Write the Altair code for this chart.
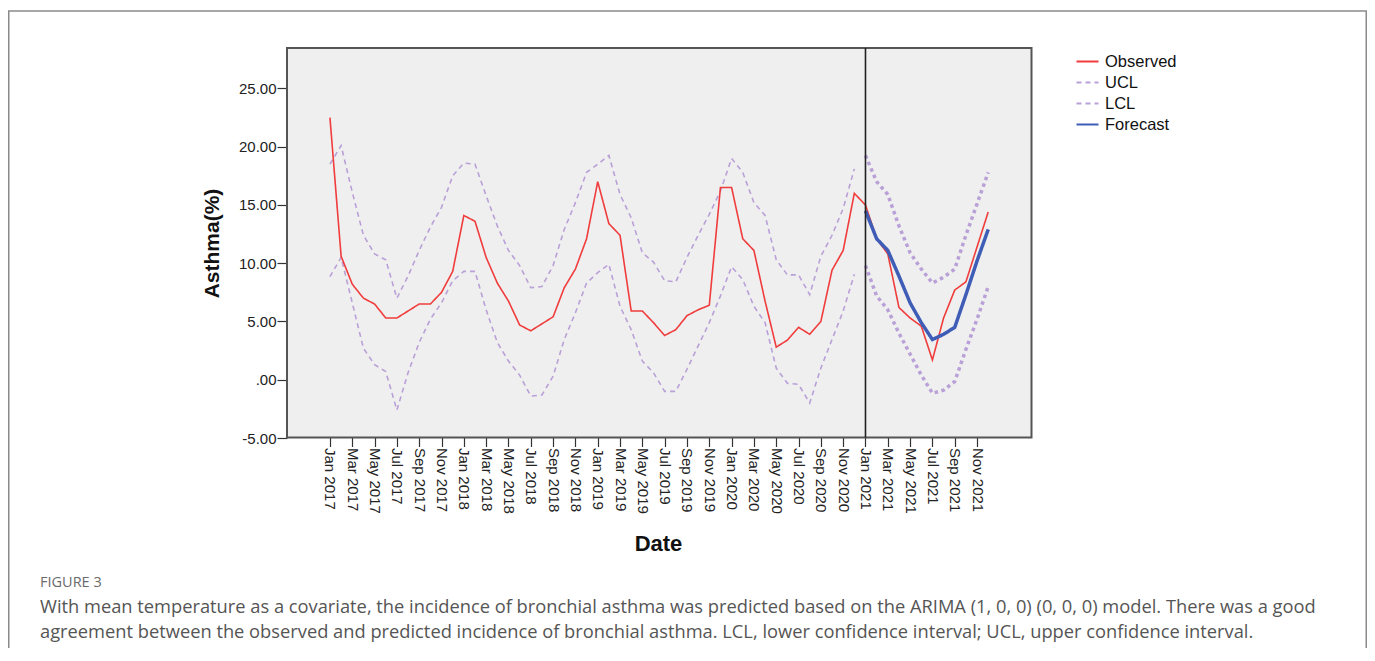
import altair as alt
import pandas as pd

# ---------------- data ----------------
years = [2017, 2018, 2019, 2020, 2021]
month_names = ["Jan", "Feb", "Mar", "Apr", "May", "Jun",
               "Jul", "Aug", "Sep", "Oct", "Nov", "Dec"]
month_labels = [f"{m} {y}" for y in years for m in month_names]

observed = [22.5, 10.6, 8.2, 7.0, 6.5, 5.3, 5.3, 5.9, 6.5, 6.5, 7.5, 9.3,
            14.1, 13.6, 10.5, 8.3, 6.75, 4.7, 4.2, 4.8, 5.4, 7.9, 9.5, 12.1,
            17.0, 13.4, 12.4, 5.9, 5.9, 4.9, 3.8, 4.3, 5.5, 6.0, 6.4, 16.5,
            16.5, 12.1, 11.1, 6.75, 2.8, 3.4, 4.5, 3.9, 5.0, 9.4, 11.1, 16.0,
            15.0, 12.1, 10.8, 6.2, 5.3, 4.6, 1.7, 5.3, 7.7, 8.4, 11.4, 14.4]

ucl = [18.5, 20.1, 16.1, 12.4, 10.8, 10.3, 7.0, 8.9, 11.1, 13.1, 14.8, 17.5,
       18.6, 18.5, 15.8, 13.2, 11.1, 9.8, 7.9, 8.0, 9.8, 12.9, 15.2, 17.8,
       18.5, 19.25, 15.9, 13.9, 10.9, 10.1, 8.5, 8.4, 10.5, 12.4, 14.2, 16.2,
       19.0, 17.8, 15.2, 14.1, 10.3, 9.0, 9.0, 7.3, 10.6, 12.4, 14.7, 18.1,
       19.25, 17.0, 15.9, 13.2, 10.9, 9.5, 8.3, 8.8, 9.5, 12.4, 15.1, 17.8]

lcl = [8.85, 10.5, 6.6, 2.7, 1.3, 0.7, -2.6, 0.6, 3.2, 5.2, 6.6, 8.5,
       9.3, 9.3, 6.0, 3.2, 1.6, 0.4, -1.4, -1.3, 0.3, 3.45, 5.75, 8.3,
       9.2, 9.9, 6.3, 4.3, 1.6, 0.6, -1.0, -1.0, 0.9, 2.9, 4.9, 7.2,
       9.7, 8.6, 6.3, 4.9, 1.0, -0.3, -0.4, -2.0, 1.0, 3.45, 5.9, 9.05,
       9.8, 7.2, 6.0, 4.0, 2.2, 0.4, -1.15, -0.9, -0.15, 2.6, 5.2, 8.0]

forecast = [14.5, 12.1, 11.1, 8.9, 6.6, 4.9, 3.45, 3.9, 4.5, 7.3, 10.2, 12.9]

forecast_start = 48  # Jan 2021
series_names = ["Observed", "UCL", "LCL", "Forecast"]
series_colors = ["#F03C3C", "#B9A0D7", "#B9A0D7", "#3F5DB6"]

caption_label = "FIGURE 3"
caption_lines = [
    "With mean temperature as a covariate, the incidence of bronchial asthma was predicted based on the ARIMA (1, 0, 0) (0, 0, 0) model. There was a good",
    "agreement between the observed and predicted incidence of bronchial asthma. LCL, lower confidence interval; UCL, upper confidence interval.",
]

# ---------------- table ----------------
rows = []
for i, v in enumerate(observed):
    rows.append({"t": i, "series": "Observed", "value": v, "part": "hist"})
for i, v in enumerate(ucl):
    rows.append({"t": i, "series": "UCL", "value": v,
                 "part": "hist" if i < forecast_start else "fcst"})
for i, v in enumerate(lcl):
    rows.append({"t": i, "series": "LCL", "value": v,
                 "part": "hist" if i < forecast_start else "fcst"})
for k, v in enumerate(forecast):
    rows.append({"t": forecast_start + k, "series": "Forecast", "value": v, "part": "fcst"})
df = pd.DataFrame(rows)

# ---------------- geometry ----------------
W, H = 1359, 640
PX0, PX1 = 279, 1023.5      # plot area (x)
PY0, PY1 = 40, 429.5        # plot area (y)

label_expr = "[" + ",".join(f"'{m}'" for m in month_labels) + "][datum.value]"

xscale = alt.Scale(domain=[-3.85, 62.88], range=[PX0, PX1], nice=False, zero=False)
yscale = alt.Scale(domain=[-5, 28.5], range=[430, 39.7], nice=False, zero=False)

x_axis = alt.Axis(
    values=list(range(0, 60, 2)), labelExpr=label_expr, labelAngle=90,
    labelAlign="left", labelBaseline="middle", labelPadding=1,
    labelFont="Liberation Sans", labelFontSize=15, labelColor="#222",
    tickSize=9, tickColor="#333", tickWidth=1.2, domain=False, grid=False,
    offset=-(H - PY1), title="Date", titleFont="Liberation Sans",
    titleFontSize=22, titleFontWeight="bold", titleColor="#111",
    titleX=650, titleY=535 - PY1, titleAlign="center", titleBaseline="middle",
    labelOverlap=False, labelFlush=False,
)
y_axis = alt.Axis(
    values=[-5, 0, 5, 10, 15, 20, 25],
    labelExpr="datum.value == 0 ? '.00' : (datum.value < 0 ? '-' + format(-datum.value, '.2f') : format(datum.value, '.2f'))",
    labelFont="Liberation Sans", labelFontSize=15, labelColor="#222", labelPadding=1,
    tickSize=10, tickColor="#333", tickWidth=1.2, domain=False, grid=False,
    offset=-PX0, title="Asthma(%)", titleFont="Liberation Sans",
    titleFontSize=21, titleFontWeight="bold", titleColor="#111",
    titleAngle=-90, titleX=204 - PX0, titleY=235, titleAlign="center",
    titleBaseline="middle", labelFlush=False,
)

color_scale = alt.Scale(domain=series_names, range=series_colors)
dash_scale = alt.Scale(domain=series_names, range=[[1, 0], [5, 4], [5, 4], [1, 0]])

legend = alt.Legend(
    title=None, orient="none", legendX=1067, legendY=41,
    symbolType="stroke", symbolSize=484, rowPadding=0, labelOffset=5,
    labelFont="Liberation Sans", labelFontSize=16.5, labelColor="#111",
    padding=0, symbolStrokeWidth=2.2,
)

base = alt.Chart(df)
X = alt.X("t:Q", scale=xscale, axis=x_axis)
Y = alt.Y("value:Q", scale=yscale, axis=y_axis)
C = alt.Color("series:N", scale=color_scale, legend=legend)
D = alt.StrokeDash("series:N", scale=dash_scale, legend=legend)

one = pd.DataFrame({"k": [0]})

frame = alt.Chart(one).mark_rect(fill="transparent", stroke="#8A8A8A", strokeWidth=1.5).encode(
    x=alt.value(0.75), x2=alt.value(W - 0.75), y=alt.value(3), y2=alt.value(H + 40))

plot_bg = alt.Chart(one).mark_rect(fill="#EFEFEF", stroke="#555555", strokeWidth=2).encode(
    x=alt.value(PX0), x2=alt.value(PX1), y=alt.value(PY0), y2=alt.value(PY1))

hist_cl = base.transform_filter(
    "(datum.series === 'UCL' || datum.series === 'LCL') && datum.part === 'hist'"
).mark_line(strokeWidth=1.6).encode(x=X, y=Y, color=C, strokeDash=D, detail="series:N")

fcst_cl = base.transform_filter(
    "(datum.series === 'UCL' || datum.series === 'LCL') && datum.part === 'fcst'"
).mark_line(strokeWidth=3.5, strokeDash=[3.5, 3.5]).encode(x=X, y=Y, color=C, detail="series:N")

obs = base.transform_filter("datum.series === 'Observed'").mark_line(strokeWidth=1.6).encode(
    x=X, y=Y, color=C, strokeDash=D)

fc = base.transform_filter("datum.series === 'Forecast'").mark_line(strokeWidth=3.5).encode(
    x=X, y=Y, color=C, strokeDash=D)

vline = alt.Chart(pd.DataFrame({"t": [forecast_start]})).mark_rule(color="#222", strokeWidth=1.6).encode(
    x=alt.X("t:Q", scale=xscale), y=alt.value(PY0), y2=alt.value(PY1))

cap_label = alt.Chart(one).mark_text(
    text=caption_label, align="left", baseline="middle", font="Open Sans",
    fontSize=14.5, color="#6B6B6B").encode(x=alt.value(32), y=alt.value(575))

cap_text = alt.Chart(one).mark_text(
    text=caption_lines, align="left", baseline="middle", font="Open Sans",
    fontSize=18.3, lineHeight=25, color="#555555").encode(x=alt.value(32), y=alt.value(600))

chart = alt.layer(
    frame, plot_bg, hist_cl, fcst_cl, obs, fc, vline, cap_label, cap_text
).resolve_scale(x="shared", y="shared").properties(
    width=W, height=H, padding=0, autosize=alt.AutoSizeParams(type="none"),
    background="white",
).configure_view(stroke=None)

chart.save("out.html", embed_options={"renderer": "svg", "actions": False})
